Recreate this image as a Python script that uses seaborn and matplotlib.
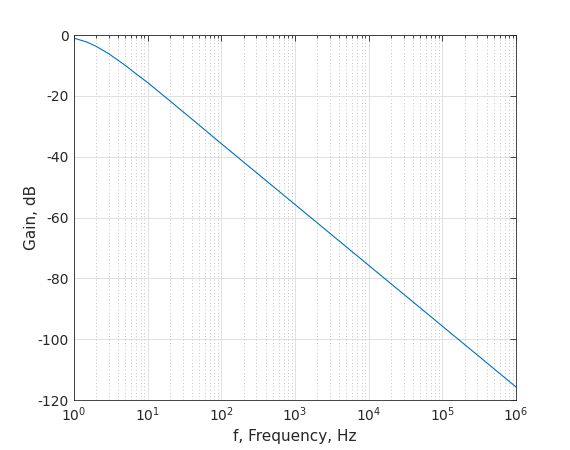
import matplotlib
matplotlib.use('Agg')
import matplotlib.pyplot as plt
import matplotlib.ticker as mticker
import numpy as np
import pandas as pd
import seaborn as sns

# values
freq_hz = [1, 1.5, 2, 3, 5, 7, 10, 20, 50, 100, 1e3, 1e4, 1e5, 1e6]
gain_db = [-1.0, -2.3, -3.7, -6.2, -10.0, -12.8, -15.6, -21.6, -29.6, -35.7,
           -55.7, -75.7, -95.7, -115.7]
y_ticks = [-120, -100, -80, -60, -40, -20, 0]

df = pd.DataFrame({'f': freq_hz, 'gain': gain_db})

sns.set_style('white')
plt.rcParams['font.family'] = ['DejaVu Sans']
plt.rcParams['axes.unicode_minus'] = False
txt = '#262626'

fig = plt.figure(figsize=(5.7, 4.5), dpi=100)
ax = fig.add_axes([0.1298, 0.111, 0.9053 - 0.1298, 0.922 - 0.111])
sns.lineplot(data=df, x='f', y='gain', ax=ax, color='#0072BD', linewidth=0.8)

ax.set_xscale('log')
ax.set_xlim(1, 1e6)
ax.set_ylim(-120, 0)
ax.set_yticks(y_ticks)
ax.xaxis.set_major_locator(mticker.LogLocator(base=10, numticks=10))
ax.xaxis.set_minor_locator(mticker.LogLocator(base=10, subs=np.arange(2, 10), numticks=100))
ax.xaxis.set_minor_formatter(mticker.NullFormatter())

ax.grid(True, which='major', color='#dcdcdc', linewidth=0.6)
ax.grid(True, which='minor', axis='x', color='#b0b0b0', linestyle=(0, (1, 3)), linewidth=0.6)
ax.set_axisbelow(True)

for s in ax.spines.values():
    s.set_color(txt)
    s.set_linewidth(0.6)
ax.tick_params(which='both', direction='in', top=True, right=True, colors=txt,
               labelsize=10, width=0.6)
ax.tick_params(which='major', length=4)
ax.tick_params(which='minor', length=2)

ax.set_xlabel('f, Frequency, Hz', fontsize=11, color=txt)
ax.set_ylabel('Gain, dB', fontsize=11, color=txt, labelpad=-1)

fig.savefig('out.png', dpi=100)
